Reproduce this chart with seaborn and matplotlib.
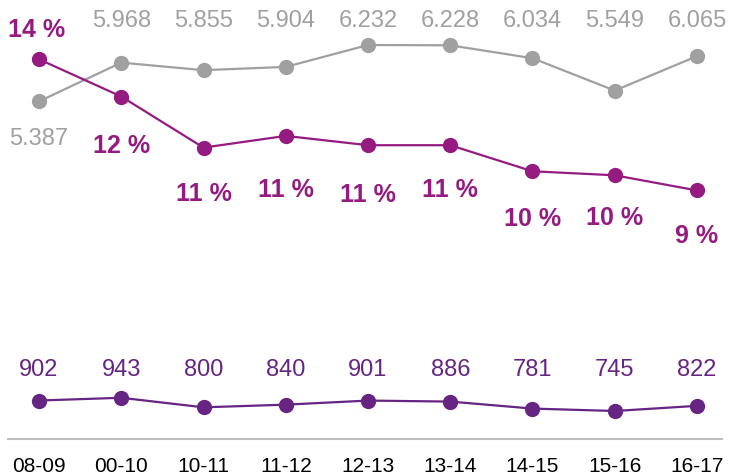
import pandas as pd
import matplotlib.pyplot as plt
import seaborn as sns

# Datos
periodos = ["08-09", "00-10", "10-11", "11-12", "12-13", "13-14", "14-15", "15-16", "16-17"]
total = [5387, 5968, 5855, 5904, 6232, 6228, 6034, 5549, 6065]
grupo = [902, 943, 800, 840, 901, 886, 781, 745, 822]
porcentaje = [13.88, 12.48, 10.56, 11.00, 10.65, 10.65, 9.67, 9.52, 8.95]

df = pd.DataFrame({"Periodo": periodos, "Total": total, "Grupo": grupo, "Porcentaje": porcentaje})

# Colores
gris = "#a0a0a0"
magenta = "#951b81"
morado = "#662483"

# desplazamiento vertical (px) de cada etiqueta de porcentaje
desp_pct = [29, -49, -46, -54, -50, -45, -48, -43, -46]

sns.set_style("white")
plt.rcParams["font.family"] = ["Liberation Sans", "DejaVu Sans"]

fig = plt.figure(figsize=(7.33, 4.76), dpi=100)
ax = fig.add_axes([8 / 733, 37 / 476, 714 / 733, 439 / 476])
ax2 = ax.twinx()

# Líneas en el eje principal
sns.lineplot(data=df, x="Periodo", y="Total", ax=ax, color=gris, linewidth=1.6,
             marker="o", markersize=11, markeredgewidth=0, sort=False)
sns.lineplot(data=df, x="Periodo", y="Grupo", ax=ax, color=morado, linewidth=1.6,
             marker="o", markersize=11, markeredgewidth=0, sort=False)
# Porcentaje en eje secundario
sns.lineplot(data=df, x="Periodo", y="Porcentaje", ax=ax2, color=magenta, linewidth=1.6,
             marker="o", markersize=11, markeredgewidth=0, sort=False)

ax.set_xlim(-0.377, 8.304)
ax.set_ylim(325, 6907)
ax2.set_ylim(-0.394, 16.109)

# Etiquetas
trans = ax.get_xaxis_transform()
for i, v in enumerate(total):
    txt = f"{v:,}".replace(",", ".")
    if i == 0:
        ax.annotate(txt, xy=(i, v), xytext=(0, -38), textcoords="offset pixels",
                    ha="center", va="center", fontsize=17, color=gris)
    else:
        ax.text(i, 1 - 21 / 439, txt, transform=trans, ha="center", va="center",
                fontsize=17, color=gris)

for i, v in enumerate(grupo):
    ax.text(i, 1 - 370 / 439, str(v), transform=trans, ha="center", va="center",
            fontsize=17, color=morado)

for i, v in enumerate(porcentaje):
    ax2.annotate(f"{v:.0f} %", xy=(i, v), xytext=(-2 if i == 0 else 0, desp_pct[i]),
                 textcoords="offset pixels", ha="center", va="center",
                 fontsize=18, fontweight="bold", color=magenta, annotation_clip=False)

# Ejes
for a in (ax, ax2):
    for s in ["top", "left", "right", "bottom"]:
        a.spines[s].set_visible(False)
    a.set_yticks([])
    a.set_ylabel("")
    a.set_xlabel("")
ax.spines["bottom"].set_visible(True)
ax.spines["bottom"].set_color("#bfbfbf")
ax.spines["bottom"].set_linewidth(1.5)
ax.tick_params(axis="x", length=0, pad=13, labelsize=15, labelcolor="black")

plt.savefig("out.png", dpi=100)
